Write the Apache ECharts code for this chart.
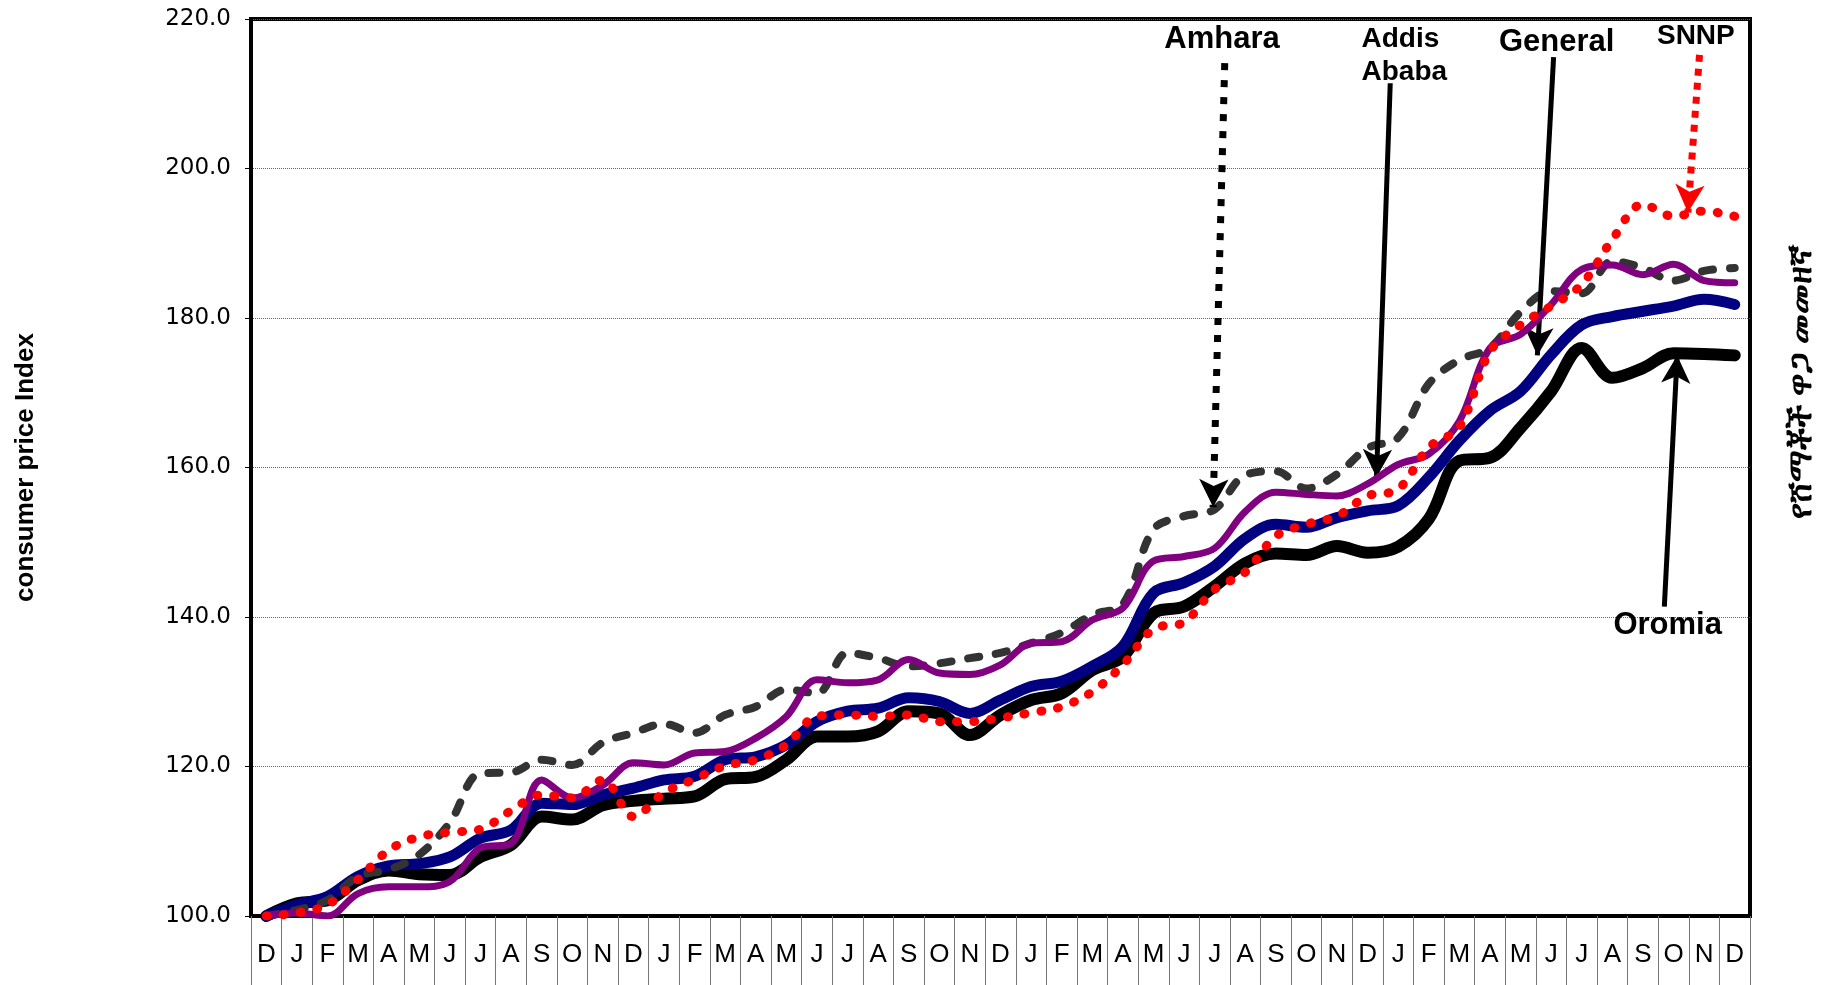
<!DOCTYPE html>
<html><head><meta charset="utf-8">
<script src="https://cdn.jsdelivr.net/npm/echarts@6/dist/echarts.min.js"></script>
<style>html,body{margin:0;padding:0;background:#fff}#c{width:1829px;height:985px}</style>
</head><body><div id="c"></div>
<script>
// ---- data ----
const months = ['D','J','F','M','A','M','J','J','A','S','O','N',
                'D','J','F','M','A','M','J','J','A','S','O','N',
                'D','J','F','M','A','M','J','J','A','S','O','N',
                'D','J','F','M','A','M','J','J','A','S','O','N','D'];
const oromia  = [100,101.7,102.1,104.8,106.1,105.6,105.5,107.9,109.5,113.3,112.9,114.8,115.4,115.7,116.0,118.3,
                 118.6,120.9,124.0,124.0,124.7,127.4,127.1,124.2,126.9,128.9,129.8,132.9,134.7,140.5,141.4,144.1,
                 147.2,148.5,148.3,149.5,148.6,149.4,153.1,160.9,161.3,165.3,170.2,176.0,172.0,173.3,175.3,175.2,175.0];
const general = [100,101.5,102.6,105.3,106.7,107.0,107.9,110.4,111.5,115.1,114.9,116.2,117.1,118.2,118.7,120.9,
                 121.3,122.9,126.0,127.4,127.8,129.2,128.7,127.1,128.9,130.7,131.4,133.4,136.1,143.2,144.6,146.8,
                 150.5,152.4,152.0,153.3,154.2,154.9,158.7,163.6,167.6,170.2,175.1,179.1,180.2,180.9,181.6,182.5,181.8];
const addis   = [100,100.4,100.0,103.0,103.9,103.9,104.6,109.1,109.7,118.2,115.8,117.5,120.5,120.2,121.8,122.0,
                 123.8,126.7,131.6,131.2,131.6,134.3,132.5,132.3,133.6,136.5,136.7,139.6,141.2,147.5,148.1,149.2,
                 154.1,156.7,156.4,156.2,157.8,160.4,161.8,166.2,176.0,177.8,181.8,186.5,187.1,185.8,187.2,185.0,184.7];
const amhara  = [100,100.8,102.1,105.3,106.2,108.2,112.5,119.1,119.2,120.9,120.2,123.2,124.5,125.7,124.5,126.9,
                 128.0,130.3,129.8,135.2,134.5,133.4,133.8,134.5,135.2,136.5,137.9,140.3,141.7,151.7,153.5,154.4,
                 159.0,159.5,157.2,159.1,162.6,164.0,171.2,174.4,176.0,180.8,183.6,183.3,187.6,186.7,185.0,186.3,186.7];
const snnp    = [100,100.4,101.5,104.9,108.8,110.6,111.2,111.6,114.1,116.2,115.8,118.2,113.3,116.5,118.3,120.1,
                 120.9,122.9,126.7,126.9,126.7,126.9,126.0,126.0,126.5,127.2,128.0,130.0,133.6,138.4,139.3,143.7,
                 146.0,150.8,152.4,153.5,156.2,157.1,162.7,165.4,175.5,179.1,181.6,184.5,190.5,195.2,193.6,194.3,193.6];
const yMin = 100, yMax = 220, yStep = 20;

// annotation arrows (category index, index value)
const arrowLabels = ['Amhara', 'Addis\nAbaba', 'General', 'SNNP', 'Oromia'];
const arrowFrom   = [[31.33,214.1],[36.74,211.4],[42.08,214.9],[46.85,215.2],[45.70,141.4]];
const arrowTo     = [[30.95,154.7],[36.29,158.7],[41.55,175.0],[46.47,194.1],[46.12,175.0]];
const labelAt     = [[31.24,217.2],[35.80,215.1],[42.18,216.8],[46.73,217.75],[45.81,138.85]];

const yTitle = 'consumer price Index';
const yTitleAm = 'የሸማቾች ዋጋ መመዘኛ';

// ---- chart ----
const chart = echarts.init(document.getElementById('c'), null, {renderer:'canvas'});
const F = 'Liberation Sans, Arial, Helvetica, sans-serif';

function lineSeries(name, data, color, width, type, z) {
  return {
    name, type:'line', data, smooth:0.35, symbol:'none', z,
    lineStyle:{color, width, type: type || 'solid', cap:'round', join:'round'},
    animation:false
  };
}

const arrowStyles = [
  {color:'#000', width:7, type:[7,10], cap:'butt'},
  {color:'#000', width:5, type:'solid'},
  {color:'#000', width:5, type:'solid'},
  {color:'#ff0000', width:7, type:[7,7], cap:'butt'},
  {color:'#000', width:5, type:'solid'}
];
const arrowColors = ['#000','#000','#000','#ff0000','#000'];

const markData = arrowFrom.map((f, k) => [
  {coord:f, symbol:'none', lineStyle:arrowStyles[k]},
  {coord:arrowTo[k], symbol:'arrow', symbolSize:[22,28], itemStyle:{color:arrowColors[k]}, lineStyle:arrowStyles[k]}
]);

chart.setOption({
  backgroundColor:'#fff',
  animation:false,
  grid:{left:251, right:79, top:19, bottom:69, show:true, borderColor:'#000', borderWidth:4, backgroundColor:'transparent'},
  xAxis:[{
    type:'category', data:months, boundaryGap:true,
    axisLine:{show:true, onZero:false, lineStyle:{color:'#000', width:4}},
    axisTick:{show:true, interval:0, length:72, lineStyle:{color:'#777', width:1}},
    axisLabel:{interval:0, color:'#000', fontFamily:F, fontSize:26, margin:26},
    splitLine:{show:false}
  },{
    type:'value', min:-0.5, max:48.5, show:false,
    axisLine:{show:false, onZero:false}, splitLine:{show:false}
  }],
  yAxis:{
    type:'value', min:yMin, max:yMax, interval:yStep,
    name:yTitle, nameLocation:'middle', nameRotate:90, nameGap:212,
    nameTextStyle:{fontFamily:F, fontWeight:'bold', fontSize:26, color:'#000'},
    axisLine:{show:true, onZero:false, lineStyle:{color:'#000', width:4}},
    axisTick:{show:true, length:6, lineStyle:{color:'#000', width:1}},
    axisLabel:{color:'#000', fontFamily:'"DejaVu Sans", sans-serif', fontSize:23, margin:20, formatter:v=>v.toFixed(1)},
    splitLine:{show:true, lineStyle:{color:'#666', width:1, type:[1,1]}}
  },
  series:[
    lineSeries('Oromia', oromia, '#000000', 12, 'solid', 2),
    lineSeries('General', general, '#000080', 11, 'solid', 3),
    lineSeries('Amhara', amhara, '#333333', 8, [11,17], 4),
    lineSeries('Addis Ababa', addis, '#800080', 7, 'solid', 5),
    lineSeries('SNNP', snnp, '#ff0000', 9, [1,16], 6),
    {
      type:'line', xAxisIndex:1, data:[], z:10, silent:true,
      markLine:{silent:true, animation:false, symbol:['none','arrow'], label:{show:false}, data:markData}
    }
  ]
});

// text labels of the arrows, placed through the axes
const texts = arrowLabels.map((t, k) => {
  const p = chart.convertToPixel({xAxisIndex:1, yAxisIndex:0}, labelAt[k]);
  const small = (t === 'SNNP' || t.indexOf('Addis') === 0);
  return {
    type:'text', x:p[0], y:p[1], z:20,
    style:{text:t, fill:'#000', font:'bold ' + (small ? 28 : 31) + 'px ' + F,
           align: t.indexOf('Addis') === 0 ? 'left' : 'center', verticalAlign:'middle', lineHeight: 33}
  };
});
texts.push({
  type:'text', x:1802, y:382, rotation:Math.PI/2, z:20,
  style:{text:yTitleAm, fill:'#000', font:'bold 33px "Noto Sans", "DejaVu Sans", sans-serif', align:'center', verticalAlign:'middle'}
});
chart.setOption({graphic:texts});
</script></body></html>
